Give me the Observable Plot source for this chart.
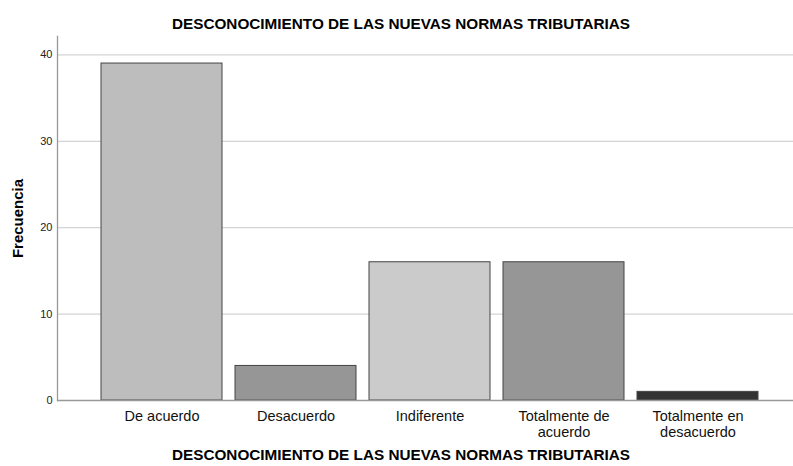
<!DOCTYPE html>
<html>
<head>
<meta charset="utf-8">
<script src="https://cdn.jsdelivr.net/npm/d3@7"></script>
<script src="https://cdn.jsdelivr.net/npm/@observablehq/plot@0.6"></script>
<style>
  html, body { margin: 0; padding: 0; background: #fff; }
  body { width: 793px; height: 466px; overflow: hidden; font-family: "Liberation Sans", Arial, sans-serif; }
  .title { font-weight: bold; font-size: 15.3px; text-align: center; color: #000; padding-left: 9px; }
  #top { height: 22px; padding-top: 14px; line-height: 20px; }
  #bottom { height: 22px; line-height: 22px; }
  #chart svg { display: block; }
</style>
</head>
<body>
<div id="top" class="title">DESCONOCIMIENTO DE LAS NUEVAS NORMAS TRIBUTARIAS</div>
<div id="chart"></div>
<div id="bottom" class="title">DESCONOCIMIENTO DE LAS NUEVAS NORMAS TRIBUTARIAS</div>
<script>
const categories = ["De acuerdo", "Desacuerdo", "Indiferente", "Totalmente de acuerdo", "Totalmente en desacuerdo"];
const categoryLabels = ["De acuerdo", "Desacuerdo", "Indiferente", "Totalmente de\nacuerdo", "Totalmente en\ndesacuerdo"];
const frecuencia = [39, 4, 16, 16, 1];
const barColors = ["#bdbdbd", "#969696", "#cbcbcb", "#969696", "#333333"];
const yTicks = [0, 10, 20, 30, 40];
const yLabel = "Frecuencia";

const data = categories.map((c, i) => ({cat: c, value: frecuencia[i], color: barColors[i]}));
const labelOf = new Map(categories.map((c, i) => [c, categoryLabels[i]]));

const chart = Plot.plot({
  width: 793,
  height: 408,
  marginLeft: 57,
  marginRight: 0,
  marginTop: 0,
  marginBottom: 44,
  style: {fontFamily: "'Liberation Sans', Arial, sans-serif", background: "#fff", overflow: "visible"},
  x: {domain: categories, paddingInner: 0.0987, paddingOuter: 0.29, align: 0.56, label: null},
  y: {domain: [0, 42.13], label: null},
  marks: [
    Plot.ruleY(yTicks.filter(d => d > 0), {stroke: "#d4d4d4", strokeWidth: 1.3}),
    Plot.barY(data, {x: "cat", y: "value", fill: "color", stroke: "#444", strokeWidth: 1}),
    Plot.frame({anchor: "left", stroke: "#999", strokeWidth: 1.3}),
    Plot.ruleY([0], {stroke: "#999", strokeWidth: 1.3}),
    Plot.axisY(yTicks, {tickSize: 0, tickPadding: 5, fontSize: 11, fill: "#222", label: null}),
    Plot.axisX({tickSize: 0, tickPadding: 9, fontSize: 14.5, fill: "#111", label: null, tickFormat: d => labelOf.get(d), lineHeight: 1.1}),
    Plot.text([yLabel], {frameAnchor: "left", textAnchor: "middle", dx: -39, rotate: -90, fontWeight: "bold", fontSize: 15, fill: "#000"})
  ]
});
document.getElementById("chart").appendChild(chart);
</script>
</body>
</html>
